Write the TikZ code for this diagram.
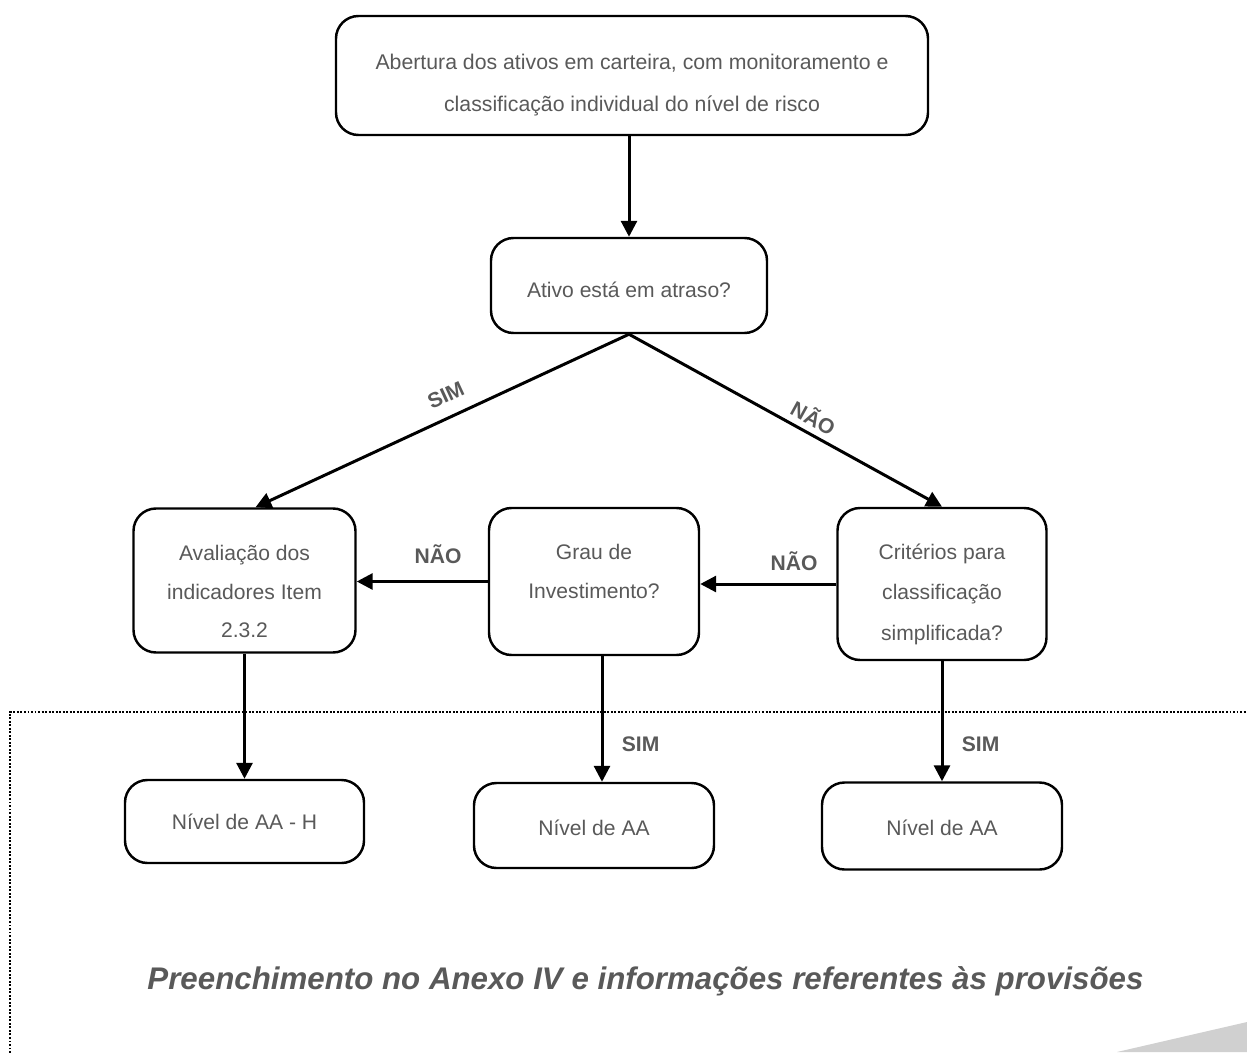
\documentclass[tikz,border=0pt]{standalone}
\usepackage{fontspec}
\setmainfont{Liberation Sans}
\usepackage{tikz}
\usetikzlibrary{positioning,arrows.meta}
\definecolor{txtgray}{HTML}{595959}
\definecolor{cornergray}{HTML}{D0D0D0}

\begin{document}
\begin{tikzpicture}[on grid, >={Triangle[length=9pt,width=9pt]},
    blk/.style={draw, rounded corners=0.45cm, line width=1.4pt, text=txtgray, align=center,
      font=\fontsize{12}{22}\selectfont, inner sep=0pt},
    lbl/.style={text=txtgray, font=\fontsize{12}{14}\selectfont\bfseries},
    arr/.style={->, line width=1.7pt}]
        \useasboundingbox (0,0) rectangle (24.94,-21.04);
        \fill[cornergray] (22.34,-21.04) -- (24.94,-20.44) -- (24.94,-21.04) -- cycle;
        \draw[line width=1.1pt, dash pattern=on 1.1pt off 0.9pt] (0.2,-21.2) -- (0.2,-14.24) -- (25.2,-14.24);
        \node[blk, minimum width=11.84cm, minimum height=2.38cm, font=\fontsize{12.1}{24}\selectfont, text height=44pt] (top) at (12.64,-1.51)
            {Abertura dos ativos em carteira, com monitoramento e\\classificação individual do nível de risco};
        \node[blk, minimum width=5.52cm, minimum height=1.9cm, text height=13.4pt] (atraso) [below left=4.2cm and 0.06cm of top] {Ativo está em atraso?};
        \node[blk, minimum width=4.44cm, minimum height=2.88cm, text height=65.4pt] (aval) [below left=5.9cm and 7.69cm of atraso]
            {Avaliação dos\\indicadores Item\\2.3.2};
        \node[blk, minimum width=4.2cm, minimum height=2.94cm, text depth=11.4pt] (grau) [below left=5.92cm and 0.7cm of atraso]
            {Grau de\\Investimento?};
        \node[blk, minimum width=4.18cm, minimum height=3.04cm, font=\fontsize{12}{23}\selectfont, text height=66.6pt] (crit) [below right=5.97cm and 6.26cm of atraso]
            {Critérios para\\classificação\\simplificada?};
        \node[blk, minimum width=4.78cm, minimum height=1.66cm] (nivA) [below=4.82cm of aval] {Nível de AA - H};
        \node[blk, minimum width=4.8cm, minimum height=1.7cm, text height=11pt] (nivB) [below=4.88cm of grau] {Nível de AA};
        \node[blk, minimum width=4.8cm, minimum height=1.74cm, text height=11pt] (nivC) [below=4.84cm of crit] {Nível de AA};
        \node[text=txtgray, font=\fontsize{17.8}{19}\selectfont\bfseries\itshape] (anexo) at (12.91,-19.62)
            {Preenchimento no Anexo IV e informações referentes às provisões};

        \draw[arr] (top.south -| atraso.north) -- (atraso.north);
        \draw[arr] (atraso.south) -- node[lbl, sloped, above=0.14cm, pos=0.466] {SIM} ([xshift=0.22cm]aval.north);
        \draw[arr] (atraso.south) -- node[lbl, sloped, above=0pt, pos=0.565] {NÃO} (crit.north);
        \draw[arr] (grau.west) -- node[lbl, above=0.2cm, pos=0.38] {NÃO} (grau.west -| aval.east);
        \draw[arr] (crit.west) -- node[lbl, above=0.12cm, pos=0.31] {NÃO} (crit.west -| grau.east);
        \draw[arr] (aval.south) -- (nivA.north);
        \draw[arr] ([xshift=0.16cm]grau.south) -- node[lbl, right=0.25cm, pos=0.7] {SIM} ([xshift=0.16cm]nivB.north);
        \draw[arr] (crit.south) -- node[lbl, right=0.25cm, pos=0.69] {SIM} (nivC.north);
    \end{tikzpicture}
\end{document}
